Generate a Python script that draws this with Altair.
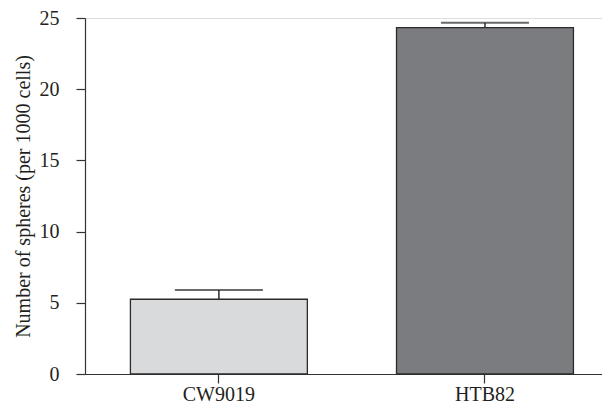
import altair as alt
import pandas as pd

categories = ["CW9019", "HTB82"]
means = [5.25, 24.32]
errors = [0.65, 0.35]
colors = ["#d9dadb", "#7b7c80"]

df = pd.DataFrame({
    "cell": categories,
    "mean": means,
    "top": [m + e for m, e in zip(means, errors)],
    "color": colors,
})

FONT = "Liberation Serif"
TXT = "#231f20"

x_enc = alt.X(
    "cell:N",
    sort=categories,
    title=None,
    scale=alt.Scale(paddingInner=0.335, paddingOuter=0.139, align=0.614),
    axis=alt.Axis(labelAngle=0, labelFont=FONT, labelFontSize=20, labelColor=TXT,
                  labelPadding=1, tickSize=9, tickColor="#333333", domainColor="#333333",
                  domainWidth=1.2, tickWidth=1.2),
)
y_scale = alt.Scale(domain=[0, 25], nice=False)

bars = alt.Chart(df).mark_bar(stroke="#2b2b2b", strokeWidth=1.3).encode(
    x=x_enc,
    y=alt.Y("mean:Q", scale=y_scale, title="Number of spheres (per 1000 cells)",
            axis=alt.Axis(values=[0, 5, 10, 15, 20, 25], grid=False, labelFont=FONT,
                          labelFontSize=20, labelColor=TXT, labelPadding=17, tickSize=9,
                          tickColor="#333333", domainColor="#333333", domainWidth=1.2,
                          tickWidth=1.2, titleFont=FONT, titleFontSize=20,
                          titleFontWeight="normal", titleColor=TXT, titlePadding=6)),
    color=alt.Color("color:N", scale=None),
)

stems = alt.Chart(df).mark_rule(color="#2b2b2b", strokeWidth=1.5).encode(
    x=alt.X("cell:N", sort=categories),
    y=alt.Y("mean:Q", scale=y_scale),
    y2="top:Q",
)

caps = alt.Chart(df).mark_tick(color="#2b2b2b", thickness=2, size=88, orient="horizontal").encode(
    x=alt.X("cell:N", sort=categories),
    y=alt.Y("top:Q", scale=y_scale),
)

chart = alt.layer(bars, stems, caps).properties(
    width=517, height=356,
    autosize=alt.AutoSizeParams(type="none"),
    padding={"left": 77, "top": 10, "right": 0, "bottom": 37},
).configure_view(stroke=None).configure(background="white")

chart.save("out.html", embed_options={"renderer": "svg", "actions": False})
